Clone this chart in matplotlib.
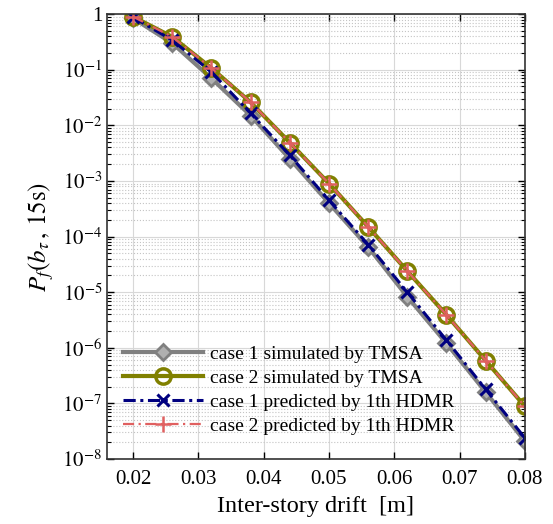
import numpy as np
import matplotlib.pyplot as plt
from matplotlib.ticker import FixedLocator, FuncFormatter, LogLocator, NullFormatter

plt.rcParams['font.family'] = ['Liberation Serif', 'DejaVu Serif']
plt.rcParams['mathtext.fontset'] = 'stix'

# drift levels [m]
drift = [0.02, 0.026, 0.032, 0.038, 0.044, 0.05, 0.056, 0.062, 0.068, 0.074, 0.08]

# failure probabilities
case1_tmsa = [0.84, 0.30, 0.070, 0.0150, 0.0025, 4.0e-4, 6.5e-5, 8.3e-6, 1.2e-6, 1.6e-7, 2.1e-8]
case2_tmsa = [0.90, 0.39, 0.107, 0.0260, 0.0049, 9.0e-4, 1.5e-4, 2.4e-5, 3.9e-6, 5.9e-7, 8.9e-8]
case1_hdmr = [0.88, 0.34, 0.091, 0.0165, 0.0029, 4.5e-4, 7.2e-5, 1.0e-5, 1.37e-6, 1.8e-7, 2.4e-8]
case2_hdmr = [0.90, 0.39, 0.107, 0.0260, 0.0049, 9.0e-4, 1.5e-4, 2.4e-5, 3.9e-6, 5.9e-7, 8.9e-8]

labels = ['case 1 simulated by TMSA', 'case 2 simulated by TMSA',
          'case 1 predicted by 1th HDMR', 'case 2 predicted by 1th HDMR']

fig = plt.figure(figsize=(5.53, 5.24), dpi=100)
ax = fig.add_axes([0.1935, 0.124, 0.7555, 0.849])

ax.semilogy(drift, case1_tmsa, color='#808080', lw=3, marker='D', ms=8,
            mfc='#b0b0b0', mec='#808080', mew=2, label=labels[0])
ax.semilogy(drift, case2_tmsa, color='#808000', lw=3, marker='o', ms=11,
            mfc='none', mec='#808000', mew=2.5, label=labels[1])
ax.semilogy(drift, case1_hdmr, color='#000080', lw=2.2, ls=(0, (4, 1.5, 1, 1.5)),
            marker='x', ms=9, mew=2.2, label=labels[2])
ax.semilogy(drift, case2_hdmr, color='#e06060', lw=1.6, ls=(0, (5, 2, 1, 2)),
            marker='+', ms=11, mew=1.8, label=labels[3])

ax.set_xlim(0.016, 0.08)
ax.set_ylim(1e-8, 1)
ax.xaxis.set_major_locator(FixedLocator([0.02, 0.03, 0.04, 0.05, 0.06, 0.07, 0.08]))
ax.xaxis.set_major_formatter(FuncFormatter(lambda v, p: f'{v:.2f}'))
ax.yaxis.set_major_locator(FixedLocator([10.0 ** k for k in range(-8, 1)]))
ax.yaxis.set_minor_locator(LogLocator(base=10, subs=np.arange(2, 10), numticks=20))
ax.yaxis.set_minor_formatter(NullFormatter())


def yfmt(v, p):
    k = int(round(np.log10(v)))
    return '1' if k == 0 else r'$10^{%d}$' % k


ax.yaxis.set_major_formatter(FuncFormatter(yfmt))

ax.tick_params(which='both', direction='in', top=True, right=True, labelsize=15)
ax.tick_params(which='major', length=5, width=1)
ax.tick_params(which='minor', length=3, width=0.8)
ax.tick_params(axis='x', pad=8)

ax.grid(True, which='major', color='#d8d8d8', lw=0.8)
ax.grid(True, which='minor', axis='y', color='#c4c4c4', ls=':', lw=0.8)
for s in ax.spines.values():
    s.set_color('#333333')
    s.set_linewidth(1.2)

ax.set_xlabel('Inter-story drift  [m]', fontsize=17.5, labelpad=5)
ax.set_ylabel(r'$P_f(b_\tau\,,\,15\mathrm{s})$', fontsize=18, labelpad=4)

ax.legend(loc='lower left', bbox_to_anchor=(0.01, 0.028), frameon=False,
          fontsize=14, handlelength=4.1, handletextpad=0.4,
          labelspacing=0.33, borderaxespad=0.2)

fig.savefig('out.png', dpi=100)
